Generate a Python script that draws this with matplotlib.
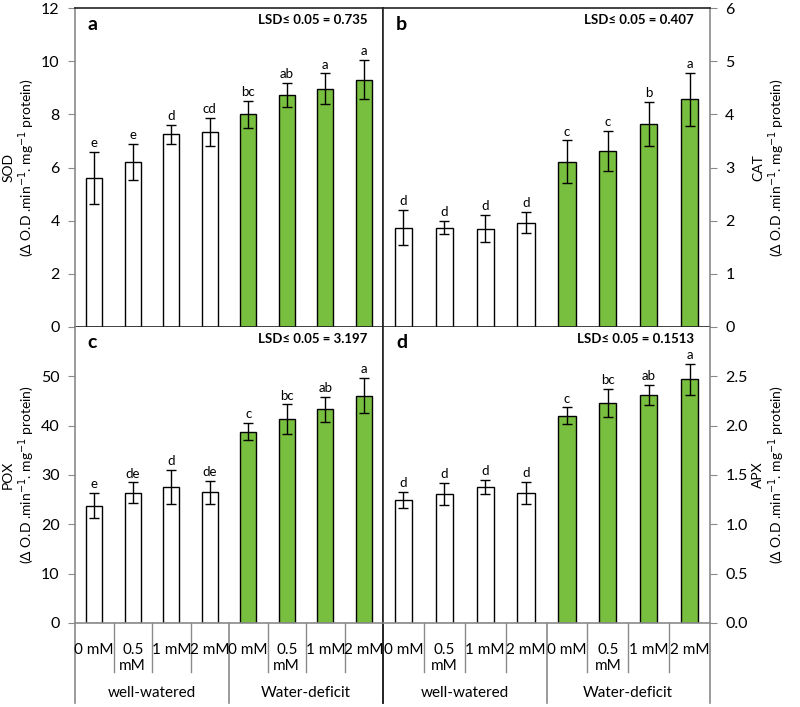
import matplotlib
matplotlib.use("Agg")
import matplotlib.pyplot as plt
import matplotlib.transforms as mtransforms
import numpy as np

plt.rcParams['font.family'] = ['Lato', 'DejaVu Sans']

doses = ["0 mM", "0.5\nmM", "1 mM", "2 mM", "0 mM", "0.5\nmM", "1 mM", "2 mM"]
groups = ["well-watered", "Water-deficit"]

sod = [5.6, 6.21, 7.25, 7.33, 8.0, 8.72, 8.96, 9.31]
sod_err = [0.98, 0.67, 0.35, 0.53, 0.5, 0.46, 0.58, 0.74]
sod_let = ["e", "e", "d", "cd", "bc", "ab", "a", "a"]

cat = [1.87, 1.87, 1.85, 1.96, 3.11, 3.31, 3.82, 4.28]
cat_err = [0.33, 0.12, 0.26, 0.2, 0.4, 0.38, 0.41, 0.5]
cat_let = ["d", "d", "d", "d", "c", "c", "b", "a"]

pox = [23.8, 26.4, 27.6, 26.5, 38.8, 41.3, 43.3, 46.1]
pox_err = [2.6, 2.1, 3.5, 2.3, 1.8, 3.0, 2.5, 3.6]
pox_let = ["e", "de", "d", "de", "c", "bc", "ab", "a"]

apx = [1.25, 1.31, 1.38, 1.32, 2.10, 2.23, 2.31, 2.47]
apx_err = [0.08, 0.11, 0.07, 0.11, 0.085, 0.14, 0.10, 0.16]
apx_let = ["d", "d", "d", "d", "c", "bc", "ab", "a"]

green = '#78BE3F'
dark = '#222222'
gray = '#8a8a8a'

fig = plt.figure(figsize=(8, 7.07), dpi=100)
L, M, R = 75 / 800, 383 / 800, 710 / 800
T, MID, B = 1 - 8 / 707, 1 - 327 / 707, 1 - 623 / 707

panels = [
    ("a", [L, MID, M - L, T - MID], sod, sod_err, sod_let, (0, 12), np.arange(0, 13, 2), "SOD", "LSD≤ 0.05 = 0.735", "left", "%d"),
    ("b", [M, MID, R - M, T - MID], cat, cat_err, cat_let, (0, 6), np.arange(0, 7, 1), "CAT", "LSD≤ 0.05 = 0.407", "right", "%d"),
    ("c", [L, B, M - L, MID - B], pox, pox_err, pox_let, (0, 60), np.arange(0, 51, 10), "POX", "LSD≤ 0.05 = 3.197", "left", "%d"),
    ("d", [M, B, R - M, MID - B], apx, apx_err, apx_let, (0, 3), np.arange(0, 2.51, 0.5), "APX", "LSD≤ 0.05 = 0.1513", "right", "%.1f"),
]

x = np.arange(8)
colors = ['white'] * 4 + [green] * 4

for name, rect, vals, errs, lets, ylim, ticks, enz, lsd, side, fmt in panels:
    ax = fig.add_axes(rect)
    ax.bar(x, vals, width=0.42, color=colors, edgecolor='black', linewidth=1, zorder=2)
    ax.errorbar(x, vals, yerr=errs, fmt='none', ecolor='black', elinewidth=1,
                capsize=3.5, capthick=1, zorder=3)
    for xi, v, e, l in zip(x, vals, errs, lets):
        ax.annotate(l, (xi, v + e), xytext=(0, 2), textcoords='offset points',
                    ha='center', va='bottom', fontsize=9.5)
    ax.set_xlim(-0.5, 7.5)
    ax.set_ylim(*ylim)
    ax.set_yticks(ticks)
    ax.yaxis.set_major_formatter(matplotlib.ticker.FormatStrFormatter(fmt))
    ax.set_xticks([])
    ax.tick_params(axis='y', direction='out', length=5, color=gray, labelsize=11.5, pad=6)
    label = enz + "\n(Δ O.D .min$^{-1}$. mg$^{-1}$ protein)"
    w = rect[2] * 800
    if side == "right":
        ax.yaxis.tick_right()
        ax.yaxis.set_label_position("right")
        ax.set_ylabel(label, fontsize=10, rotation=90, linespacing=1.15)
        ax.yaxis.set_label_coords(1 + (752 - 710) / w, 0.5)
    else:
        ax.set_ylabel(label, fontsize=10, linespacing=1.15)
        ax.yaxis.set_label_coords(-(75 - 37) / w, 0.5)
    for s in ax.spines.values():
        s.set_linewidth(1.2)
    top_row = name in ("a", "b")
    ax.spines['top'].set_visible(top_row)
    ax.spines['top'].set_color(dark)
    ax.spines['bottom'].set_color(dark if top_row else gray)
    if side == "left":
        ax.spines['left'].set_color(gray)
        ax.spines['right'].set_color(dark)
    else:
        ax.spines['left'].set_color(dark)
        ax.spines['right'].set_color(gray)
    ax.text(0.04, 0.975, name, transform=ax.transAxes, fontsize=14, fontweight='bold',
            ha='left', va='top')
    ax.text(0.95, 0.98, lsd, transform=ax.transAxes, fontsize=9.5, fontweight='bold',
            ha='right', va='top')

    if not top_row:
        tr = mtransforms.blended_transform_factory(ax.transData, ax.transAxes)
        for i, d in enumerate(doses):
            ax.text(i, -0.068, d, transform=tr, ha='center', va='top', fontsize=11,
                    linespacing=1.15)
        for b in [0.5, 1.5, 2.5, 4.5, 5.5, 6.5]:
            ax.plot([b, b], [0, -0.165], transform=tr, color=gray, lw=1, clip_on=False)
        for b in [-0.5, 3.5, 7.5]:
            c = dark if (side == "left" and b == 7.5) or (side == "right" and b == -0.5) else gray
            ax.plot([b, b], [0, -0.27], transform=tr, color=c, lw=1.2, clip_on=False)
        for g, gx in zip(groups, [1.5, 5.5]):
            ax.text(gx, -0.238, g, transform=tr, ha='center', va='center', fontsize=11)

fig.savefig("out.png", dpi=100)
